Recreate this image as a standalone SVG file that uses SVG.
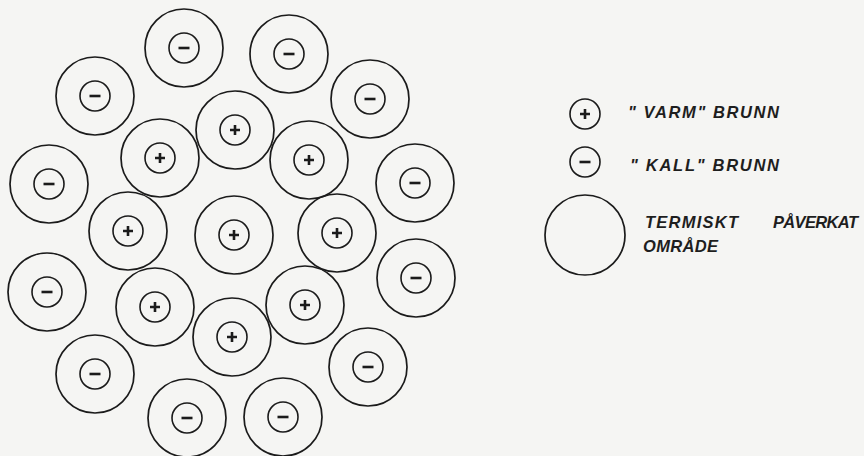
<svg xmlns="http://www.w3.org/2000/svg" xmlns:xlink="http://www.w3.org/1999/xlink" width="864" height="456" viewBox="0 0 864 456">
<style>
.ring{fill:none;stroke:#1b1b1b;stroke-width:1.7}
.well{fill:none;stroke:#1b1b1b;stroke-width:1.6}
.sign{stroke:#1b1b1b;stroke-width:2.6;stroke-linecap:butt}
.lbl{font-family:"Liberation Sans",Arial,sans-serif;font-style:italic;font-weight:bold;font-size:16.5px;fill:#1e1e1e}
</style>
<defs>
<g id="plusWell"><circle class="well" r="15"/><path class="sign" d="M-5 0H5M0 -5V5"/></g>
<g id="minusWell"><circle class="well" r="15"/><path class="sign" d="M-5.5 0H5.5"/></g>
<g id="warm"><circle class="ring" r="39"/><use xlink:href="#plusWell"/></g>
<g id="cold"><circle class="ring" r="39"/><use xlink:href="#minusWell"/></g>
</defs>
<rect width="864" height="456" fill="#f5f5f3"/>
<g id="connectors"/>
<g id="p1" transform="translate(235,130)"><use xlink:href="#warm"/></g>
<g id="p2" transform="translate(160,158)"><use xlink:href="#warm"/></g>
<g id="p3" transform="translate(309,160)"><use xlink:href="#warm"/></g>
<g id="p4" transform="translate(128,231)"><use xlink:href="#warm"/></g>
<g id="p5" transform="translate(234,235)"><use xlink:href="#warm"/></g>
<g id="p6" transform="translate(337,233)"><use xlink:href="#warm"/></g>
<g id="p7" transform="translate(155,307)"><use xlink:href="#warm"/></g>
<g id="p8" transform="translate(305,305)"><use xlink:href="#warm"/></g>
<g id="p9" transform="translate(232,337)"><use xlink:href="#warm"/></g>
<g id="m1" transform="translate(184,48)"><use xlink:href="#cold"/></g>
<g id="m2" transform="translate(289,54)"><use xlink:href="#cold"/></g>
<g id="m3" transform="translate(95,96)"><use xlink:href="#cold"/></g>
<g id="m4" transform="translate(370,99)"><use xlink:href="#cold"/></g>
<g id="m5" transform="translate(49,184)"><use xlink:href="#cold"/></g>
<g id="m6" transform="translate(415,183)"><use xlink:href="#cold"/></g>
<g id="m7" transform="translate(47,292)"><use xlink:href="#cold"/></g>
<g id="m8" transform="translate(416,278)"><use xlink:href="#cold"/></g>
<g id="m9" transform="translate(95,374)"><use xlink:href="#cold"/></g>
<g id="m10" transform="translate(368,367)"><use xlink:href="#cold"/></g>
<g id="m11" transform="translate(187,418)"><use xlink:href="#cold"/></g>
<g id="m12" transform="translate(283,417)"><use xlink:href="#cold"/></g>
<g id="legend-warm">
<use xlink:href="#plusWell" transform="translate(585,114)"/>
<text class="lbl" x="628" y="118" textLength="151" lengthAdjust="spacing">" VARM" BRUNN</text>
</g>
<g id="legend-cold">
<use xlink:href="#minusWell" transform="translate(585,162)"/>
<text class="lbl" x="630" y="171" textLength="149" lengthAdjust="spacing">" KALL" BRUNN</text>
</g>
<g id="legend-area">
<circle class="ring" cx="585" cy="235" r="40"/>
<text class="lbl" x="645" y="228" textLength="93" lengthAdjust="spacing">TERMISKT</text>
<text class="lbl" x="773" y="228" textLength="85" lengthAdjust="spacing">PÅVERKAT</text>
<text class="lbl" x="643" y="252" textLength="75" lengthAdjust="spacing">OMRÅDE</text>
</g>
</svg>
